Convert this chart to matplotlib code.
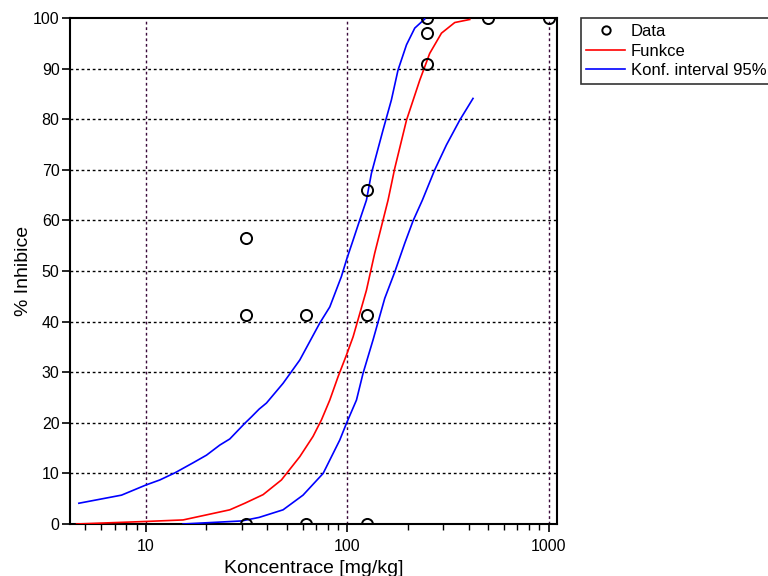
import matplotlib
matplotlib.use("Agg")
import matplotlib.pyplot as plt
from matplotlib.ticker import FixedLocator, NullFormatter, LogLocator

plt.rcParams['font.family'] = ['Liberation Sans', 'DejaVu Sans']

# measured data
data_conc = [31.25, 31.25, 31.25, 62.5, 62.5, 125, 125, 125, 250, 250, 250, 500, 1000]
data_inh = [56.6, 41.3, 0.0, 41.3, 0.0, 66.1, 41.3, 0.0, 100.0, 97.1, 91.0, 100.0, 100.0]

# fitted curve
fit_conc = [4.53, 10, 15.3, 20.0, 26.1, 31.0, 38.2, 47.1, 58.1, 67.6, 74.5, 81.9, 90.0,
            99.1, 106.9, 115.4, 124.5, 136.8, 150.6, 159.4, 172.1, 196.8, 229, 256.6,
            293.5, 341.7, 405.6]
fit_inh = [0.0, 0.5, 0.8, 1.8, 2.8, 4.1, 5.8, 8.7, 13.3, 17.3, 20.6, 24.5, 29.1,
           33.4, 37.0, 41.6, 46.2, 53.5, 60.1, 64.0, 70.3, 79.8, 87.7, 93.0,
           97.0, 99.1, 99.7]

# 95 % confidence band
upper_conc = [4.65, 7.57, 10, 11.73, 13.93, 17.17, 20.0, 23.3, 26.1, 31.0, 33.5, 36.5,
              39.7, 48.0, 58.1, 73.0, 81.9, 93.5, 99.1, 106.9, 115.4, 124.5, 131.8,
              150.6, 165.6, 178.6, 196.8, 216.3, 242.5]
upper_inh = [4.1, 5.7, 7.7, 8.7, 10.1, 12.1, 13.6, 15.6, 16.8, 19.9, 21.2, 22.7,
             23.9, 27.8, 32.4, 39.7, 42.9, 48.9, 52.2, 56.1, 60.1, 64.0, 69.3,
             77.9, 83.8, 89.7, 94.7, 98.0, 99.8]

lower_conc = [15.3, 29.85, 36.5, 48.0, 60.3, 75.9, 91.8, 99.1, 111.1, 119.8, 134.3,
              153.5, 172.1, 193, 212.1, 236, 271.8, 310.6, 361.6, 421]
lower_inh = [0.0, 0.6, 1.3, 2.8, 5.7, 10.0, 16.6, 19.9, 24.5, 29.8, 36.4,
             44.6, 49.8, 55.5, 59.9, 64.0, 70.0, 74.9, 79.8, 84.1]

fig = plt.figure(figsize=(7.68, 5.76), dpi=100)
ax = fig.add_axes([0.0911, 0.0903, 0.6342, 0.8785])

ax.set_xscale('log')
ax.set_xlim(4.2, 1100)
ax.set_ylim(0, 100)

# grid
for yv in range(10, 100, 10):
    ax.axhline(yv, color='black', linestyle=(0, (2, 2)), linewidth=1.0, zorder=1)
for xv in [10, 100, 1000]:
    ax.axvline(xv, color='#3a0a3a', linestyle=(0, (2, 2)), linewidth=1.0, zorder=1)

ax.plot(fit_conc, fit_inh, color='red', linewidth=1.2, label='Funkce', zorder=3)
ax.plot(upper_conc, upper_inh, color='blue', linewidth=1.2, label='Konf. interval 95%', zorder=3)
ax.plot(lower_conc, lower_inh, color='blue', linewidth=1.2, zorder=3)
ax.plot(data_conc, data_inh, linestyle='none', marker='o', markersize=8,
        markerfacecolor='none', markeredgecolor='black', markeredgewidth=1.4,
        label='Data', zorder=4, clip_on=True)

ax.xaxis.set_major_locator(FixedLocator([10, 100, 1000]))
ax.set_xticklabels(['10', '100', '1000'])
ax.xaxis.set_minor_locator(LogLocator(base=10, subs=range(2, 10)))
ax.xaxis.set_minor_formatter(NullFormatter())
ax.set_yticks(range(0, 101, 10))

ax.tick_params(axis='both', which='major', direction='out', length=6, width=1.2,
               labelsize=11.5, color='black')
ax.tick_params(axis='x', which='major', pad=5)
ax.tick_params(axis='y', which='major', pad=1.5)
ax.tick_params(axis='x', which='minor', direction='out', length=4, width=1.0)
for sp in ax.spines.values():
    sp.set_linewidth(1.5)
    sp.set_color('black')

ax.set_xlabel('Koncentrace [mg/kg]', fontsize=14, labelpad=4)
ax.set_ylabel('% Inhibice', fontsize=14, labelpad=1)

handles, labels = ax.get_legend_handles_labels()
order = [labels.index('Data'), labels.index('Funkce'), labels.index('Konf. interval 95%')]
leg = fig.legend([handles[i] for i in order], [labels[i] for i in order],
                 loc='upper left', bbox_to_anchor=(0.756, 0.968),
                 fontsize=12, frameon=True, fancybox=False, handlelength=2.3,
                 borderpad=0.35, labelspacing=0.26, handletextpad=0.35, borderaxespad=0)
leg.get_frame().set_edgecolor('black')
leg.get_frame().set_linewidth(1.2)
leg.legend_handles[0].set_markersize(6)

fig.savefig('out.png', dpi=100)
